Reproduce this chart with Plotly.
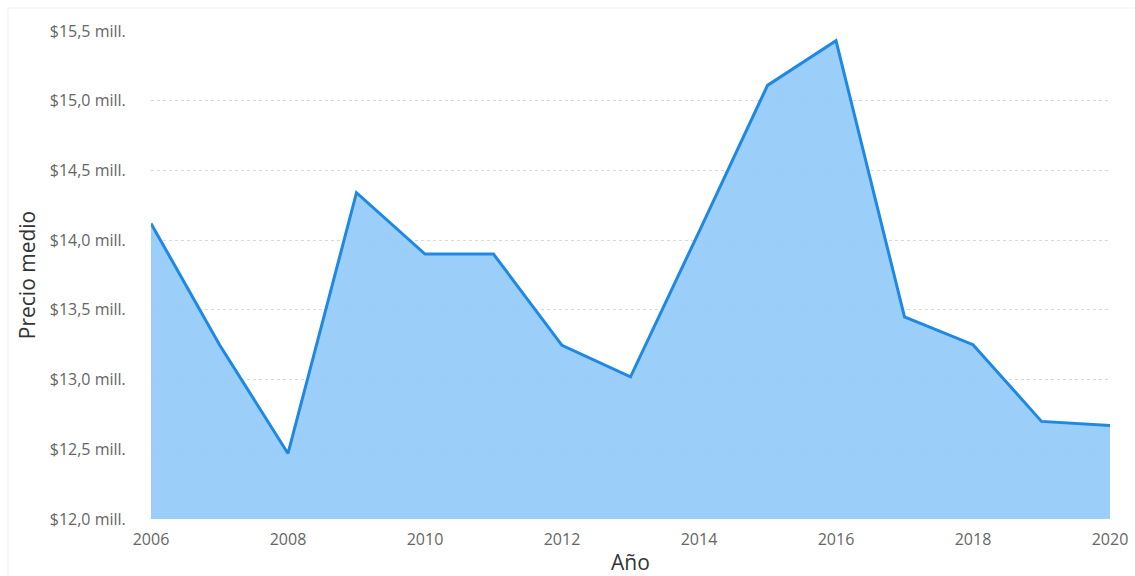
import plotly.graph_objects as go

years = list(range(2006, 2021))
precio = [14.12, 13.25, 12.47, 14.34, 13.90, 13.90, 13.245, 13.02, 14.06, 15.11, 15.43, 13.45, 13.25, 12.70, 12.67]
y_ticks = [12.0, 12.5, 13.0, 13.5, 14.0, 14.5, 15.0, 15.5]
y_labels = ["$12,0 mill.", "$12,5 mill.", "$13,0 mill.", "$13,5 mill.",
            "$14,0 mill.", "$14,5 mill.", "$15,0 mill.", "$15,5 mill."]
x_ticks = [2006, 2008, 2010, 2012, 2014, 2016, 2018, 2020]

fig = go.Figure()
fig.add_trace(go.Scatter(
    x=years, y=precio, mode="lines",
    line=dict(color="#1E88E5", width=3),
    fill="tozeroy", fillcolor="rgba(150,204,250,0.95)",
    hoverinfo="x+y",
))

font_family = "Open Sans, Noto Sans, sans-serif"
fig.update_layout(
    width=1135, height=576,
    margin=dict(l=151, r=25, t=31, b=57),
    paper_bgcolor="white", plot_bgcolor="white",
    showlegend=False,
    font=dict(family=font_family, color="#666666", size=16),
    xaxis=dict(
        range=[2006, 2020], tickvals=x_ticks, ticktext=[str(v) for v in x_ticks],
        showgrid=False, zeroline=False, showline=False, automargin=False,
        ticks="outside", ticklen=6, tickcolor="rgba(0,0,0,0)",
        tickfont=dict(size=16, color="#666666"),
        title=dict(text="Año", font=dict(size=21, color="#333333"), standoff=8),
    ),
    yaxis=dict(
        range=[12.0, 15.5], tickvals=y_ticks, ticktext=y_labels,
        showgrid=True, gridcolor="#D9D9D9", griddash="dot", gridwidth=1,
        zeroline=False, showline=False, automargin=False,
        tickfont=dict(size=16, color="#666666"),
        ticks="outside", ticklen=21, tickcolor="rgba(0,0,0,0)",
        title=dict(text="Precio medio", font=dict(size=21, color="#333333"), standoff=8),
    ),
    shapes=[
        dict(type="line", xref="paper", yref="paper",
             x0=-0.1491, x1=1.03, y0=1.0471, y1=1.0471,
             line=dict(color="#EFEFEF", width=1), layer="below"),
        dict(type="line", xref="paper", yref="paper",
             x0=-0.1491, x1=-0.1491, y0=-0.12, y1=1.0471,
             line=dict(color="#EFEFEF", width=1), layer="below"),
    ],
)

fig.write_html("out.html", config={"displayModeBar": False},
               post_script="document.body.style.margin='0';")
